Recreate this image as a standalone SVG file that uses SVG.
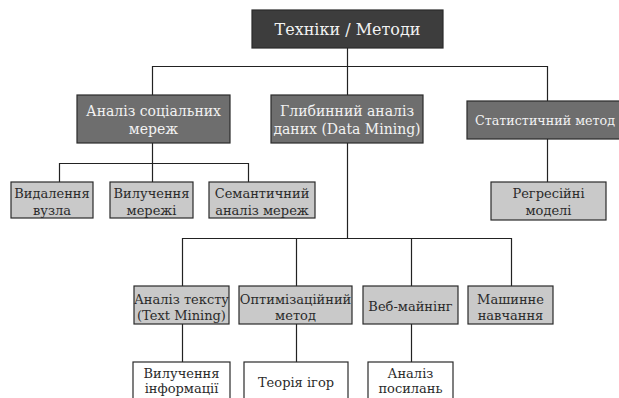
<svg xmlns="http://www.w3.org/2000/svg" width="619" height="398" viewBox="0 0 619 398">
<style>
.b{stroke:#2a2a2a;stroke-width:1.2}
.d0{fill:#3d3d3d}
.d1{fill:#6e6e6e}
.g{fill:#c9c9c9}
.w{fill:#ffffff}
text{text-anchor:middle}
.tl{fill:#f2f2f2}
.tk{fill:#2b2b2b}
.f17{font-size:16px}
.f15{font-size:14px}
.f14{font-size:13px}
.c{stroke:#222;stroke-width:1.2;fill:none}
</style>
<rect width="619" height="398" fill="#ffffff"/>
<g id="connectors">
<path class="c" d="M347.5 48V66.5M152.5 66.5H547.5M152.5 66V95M347.5 66V95M547.5 66V101"/>
<path class="c" d="M152.5 143V163.5M59.5 163.5H248.5M59.5 163V182M152.5 163V182M248.5 163V182"/>
<path class="c" d="M547.5 139V182"/>
<path class="c" d="M347.5 143V238.5M182.5 238.5H511.5M182.5 238V286M296.5 238V286M411.5 238V286M511.5 238V286"/>
<path class="c" d="M182.5 324V362M296.5 324V362M411.5 324V362"/>
</g>
<g font-family="DejaVu Serif, serif">
<g id="n-root"><rect class="b d0" x="252" y="10" width="191" height="38"/><text class="tl f17" x="347.5" y="35">Техніки / Методи</text></g>
<g id="n-sna"><rect class="b d1" x="77" y="95" width="153" height="48"/><text class="tl f15" x="153.5" y="116">Аналіз соціальних</text><text class="tl f15" x="153.5" y="134">мереж</text></g>
<g id="n-dm"><rect class="b d1" x="271" y="95" width="152" height="48"/><text class="tl f15" x="347" y="116">Глибинний аналіз</text><text class="tl f15" x="347" y="134">даних (Data Mining)</text></g>
<g id="n-stat"><rect class="b d1" x="467" y="101" width="160" height="38"/><text class="tl" font-size="13.4" x="475" y="125" style="text-anchor:start" textLength="140" lengthAdjust="spacingAndGlyphs">Статистичний метод</text></g>
<g id="n-del"><rect class="b g" x="11" y="182" width="82" height="36"/><text class="tk f14" x="52" y="198">Видалення</text><text class="tk f14" x="52" y="215">вузла</text></g>
<g id="n-ext"><rect class="b g" x="110" y="182" width="83" height="36"/><text class="tk f14" x="151.5" y="198">Вилучення</text><text class="tk f14" x="151.5" y="215">мережі</text></g>
<g id="n-sem"><rect class="b g" x="209" y="182" width="106" height="36"/><text class="tk f14" x="262" y="198">Семантичний</text><text class="tk f14" x="262" y="215">аналіз мереж</text></g>
<g id="n-reg"><rect class="b g" x="491" y="182" width="115" height="38"/><text class="tk f14" x="548.5" y="198">Регресійні</text><text class="tk f14" x="548.5" y="215">моделі</text></g>
<g id="n-text"><rect class="b g" x="134" y="286" width="95" height="38"/><text class="tk f14" x="181.5" y="304">Аналіз тексту</text><text class="tk f14" x="181.5" y="320">(Text Mining)</text></g>
<g id="n-opt"><rect class="b g" x="239" y="286" width="113" height="38"/><text class="tk f14" x="295.5" y="304">Оптимізаційний</text><text class="tk f14" x="295.5" y="320">метод</text></g>
<g id="n-web"><rect class="b g" x="363" y="286" width="95" height="38"/><text class="tk f14" x="410.5" y="311">Веб-майнінг</text></g>
<g id="n-ml"><rect class="b g" x="468" y="286" width="85" height="38"/><text class="tk f14" x="510.5" y="304">Машинне</text><text class="tk f14" x="510.5" y="320">навчання</text></g>
<g id="n-info"><rect class="b w" x="133" y="362" width="97" height="40"/><text class="tk f14" x="181.5" y="378">Вилучення</text><text class="tk f14" x="181.5" y="393">інформації</text></g>
<g id="n-game"><rect class="b w" x="244" y="362" width="104" height="40"/><text class="tk f14" x="296" y="387">Теорія ігор</text></g>
<g id="n-link"><rect class="b w" x="368" y="362" width="85" height="40"/><text class="tk f14" x="410.5" y="378">Аналіз</text><text class="tk f14" x="410.5" y="393">посилань</text></g>
</g>
</svg>
